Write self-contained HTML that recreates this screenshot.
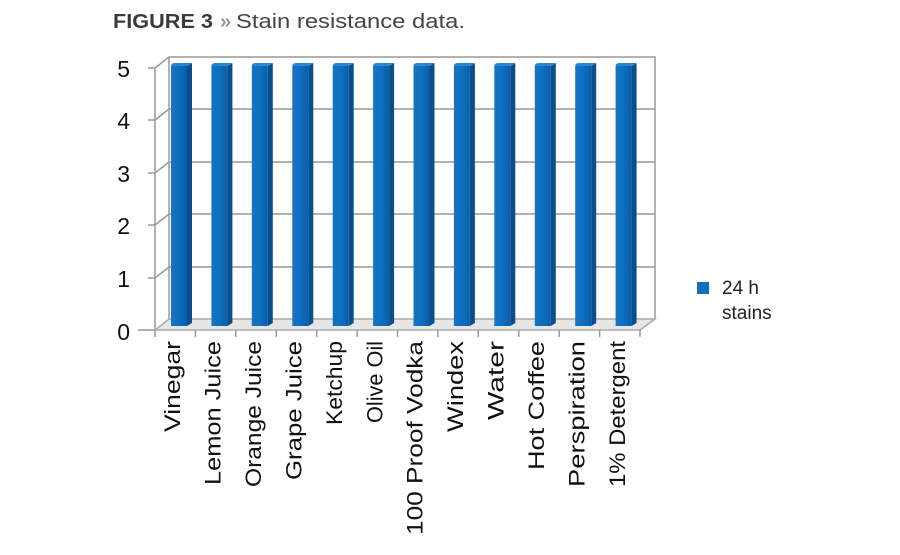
<!DOCTYPE html>
<html><head><style>
body{margin:0;background:#fff;width:900px;height:550px;overflow:hidden;font-family:"Liberation Sans",sans-serif}
</style></head><body>
<svg width="900" height="550" xmlns="http://www.w3.org/2000/svg" font-family="Liberation Sans, sans-serif">
<defs>
<linearGradient id="f" x1="0" x2="1"><stop offset="0" stop-color="#1574c4"/><stop offset="0.5" stop-color="#0d6fc0"/><stop offset="1" stop-color="#0a5ea8"/></linearGradient>
<g id="bar">
<rect x="0" y="66" width="16" height="260" fill="url(#f)"/>
<polygon points="16,66 21,63 21,323 16,326" fill="#0a4f8c"/>
<path d="M0,66 Q0,63 4,63 L21,63 L16,66Z" fill="#2a86d0"/>
</g>
</defs>
<text x="113" y="28" font-size="20" font-weight="bold" fill="#3a3a3a" textLength="100" lengthAdjust="spacingAndGlyphs">FIGURE 3</text>
<text x="220" y="28" font-size="20" font-weight="bold" fill="#999">»</text>
<text x="236" y="28" font-size="20" fill="#444" textLength="229" lengthAdjust="spacingAndGlyphs">Stain resistance data.</text>
<g stroke="#999" stroke-width="1.5" fill="none">
<polyline points="155,337 155,68 169,57 655,57 655,319"/>
<polygon points="155,330 640,330 655,319 169,319" fill="#e6e6e6" stroke="#aaa"/>
<line x1="169" y1="57" x2="169" y2="319"/>
<line x1="169" y1="109" x2="655" y2="109"/><line x1="155" y1="120" x2="169" y2="109"/>
<line x1="169" y1="162" x2="655" y2="162"/><line x1="155" y1="173" x2="169" y2="162"/>
<line x1="169" y1="214" x2="655" y2="214"/><line x1="155" y1="225" x2="169" y2="214"/>
<line x1="169" y1="267" x2="655" y2="267"/><line x1="155" y1="278" x2="169" y2="267"/>
<line x1="148" y1="68" x2="155" y2="68"/><line x1="148" y1="120" x2="155" y2="120"/><line x1="148" y1="173" x2="155" y2="173"/><line x1="148" y1="225" x2="155" y2="225"/><line x1="148" y1="278" x2="155" y2="278"/><line x1="138" y1="330" x2="155" y2="330"/>
<line x1="195.4" y1="330" x2="195.4" y2="337"/><line x1="235.8" y1="330" x2="235.8" y2="337"/><line x1="276.3" y1="330" x2="276.3" y2="337"/><line x1="316.7" y1="330" x2="316.7" y2="337"/><line x1="357.1" y1="330" x2="357.1" y2="337"/><line x1="397.5" y1="330" x2="397.5" y2="337"/><line x1="437.9" y1="330" x2="437.9" y2="337"/><line x1="478.3" y1="330" x2="478.3" y2="337"/><line x1="518.8" y1="330" x2="518.8" y2="337"/><line x1="559.2" y1="330" x2="559.2" y2="337"/><line x1="599.6" y1="330" x2="599.6" y2="337"/><line x1="640" y1="330" x2="640" y2="337"/>
</g>
<g font-size="23" fill="#111" text-anchor="end">
<text x="130" y="77">5</text><text x="130" y="129">4</text><text x="130" y="182">3</text><text x="130" y="234">2</text><text x="130" y="287">1</text><text x="130" y="340">0</text>
</g>
<use href="#bar" x="171"/><use href="#bar" x="211.4"/><use href="#bar" x="251.8"/><use href="#bar" x="292.3"/><use href="#bar" x="332.7"/><use href="#bar" x="373.1"/><use href="#bar" x="413.5"/><use href="#bar" x="453.9"/><use href="#bar" x="494.3"/><use href="#bar" x="534.8"/><use href="#bar" x="575.2"/><use href="#bar" x="615.6"/>
<g font-size="22" fill="#111" text-anchor="end">
<text transform="translate(180,341) rotate(-90)" lengthAdjust="spacingAndGlyphs" textLength="91">Vinegar</text>
<text transform="translate(220.5,341) rotate(-90)" lengthAdjust="spacingAndGlyphs" textLength="144">Lemon Juice</text>
<text transform="translate(261,341) rotate(-90)" lengthAdjust="spacingAndGlyphs" textLength="146">Orange Juice</text>
<text transform="translate(301.5,341) rotate(-90)" lengthAdjust="spacingAndGlyphs" textLength="139">Grape Juice</text>
<text transform="translate(342,341) rotate(-90)" lengthAdjust="spacingAndGlyphs" textLength="84">Ketchup</text>
<text transform="translate(382.3,341) rotate(-90)" lengthAdjust="spacingAndGlyphs" textLength="82">Olive Oil</text>
<text transform="translate(422.7,341) rotate(-90)" lengthAdjust="spacingAndGlyphs" textLength="194">100 Proof Vodka</text>
<text transform="translate(463,341) rotate(-90)" lengthAdjust="spacingAndGlyphs" textLength="91">Windex</text>
<text transform="translate(503.5,341) rotate(-90)" lengthAdjust="spacingAndGlyphs" textLength="79">Water</text>
<text transform="translate(544,341) rotate(-90)" lengthAdjust="spacingAndGlyphs" textLength="129">Hot Coffee</text>
<text transform="translate(584.4,341) rotate(-90)" lengthAdjust="spacingAndGlyphs" textLength="146">Perspiration</text>
<text transform="translate(624.8,341) rotate(-90)" lengthAdjust="spacingAndGlyphs" textLength="146">1% Detergent</text>
</g>
<rect x="697" y="282" width="12" height="12" fill="#0d6fc0"/>
<text x="722" y="294" font-size="19" fill="#222">24 h</text>
<text x="722" y="319" font-size="19" fill="#222">stains</text>
</svg>
</body></html>
